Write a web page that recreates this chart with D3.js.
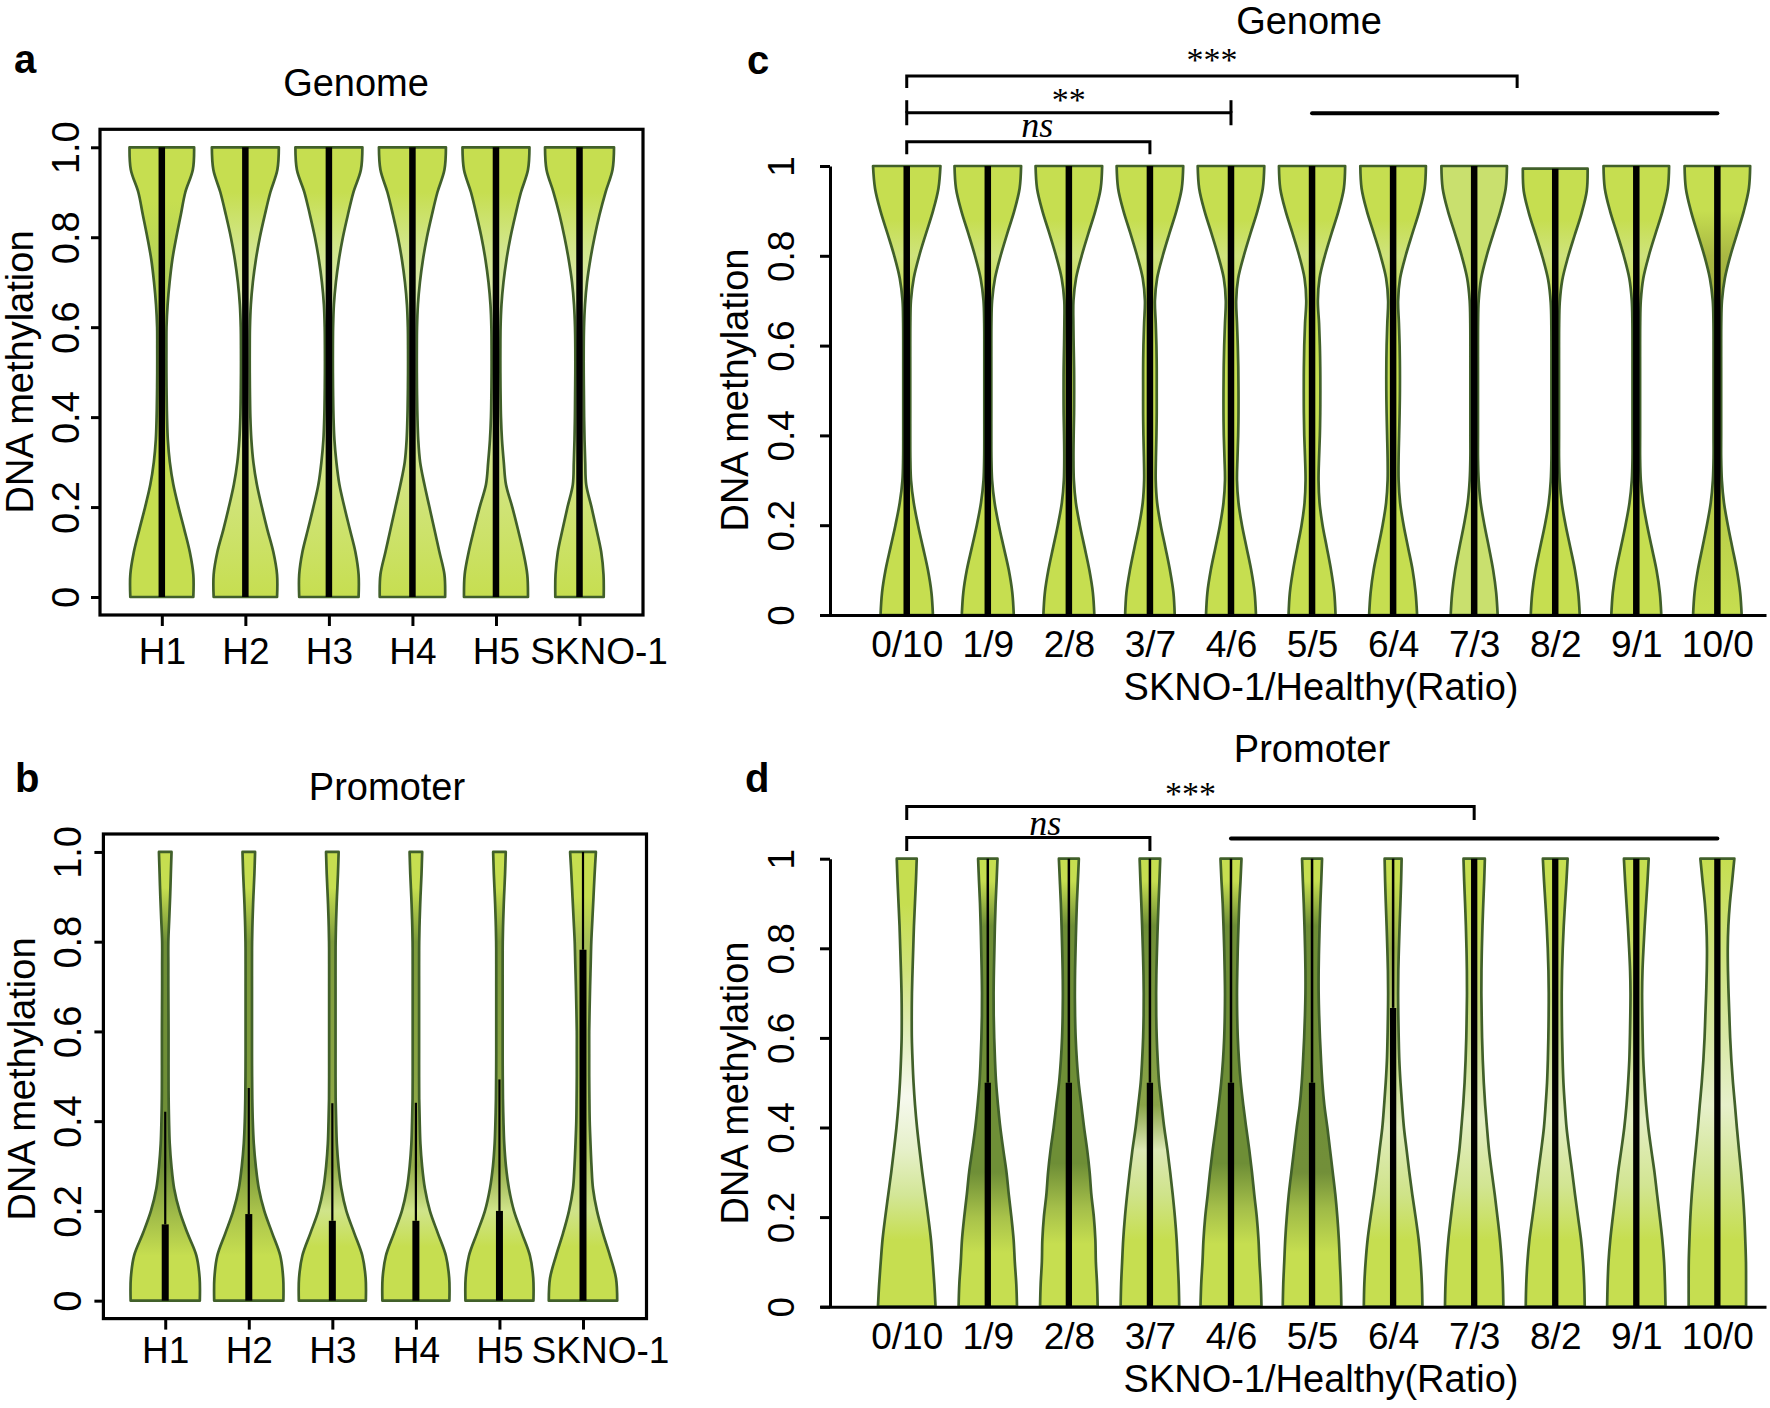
<!DOCTYPE html>
<html><head><meta charset="utf-8">
<script src="https://cdn.jsdelivr.net/npm/d3@7"></script>
<style>
html,body{margin:0;padding:0;background:#fff;}
svg{display:block;}
</style></head>
<body>
<svg id="fig" width="1770" height="1408"></svg>
<script>
// ---------------- DATA ----------------
const healthyGroups = ["H1","H2","H3","H4","H5","SKNO-1"];
const ratioGroups = ["0/10","1/9","2/8","3/7","4/6","5/5","6/4","7/3","8/2","9/1","10/0"];
const yTicks = [0, 0.2, 0.4, 0.6, 0.8, 1.0];
const yTickLabelsAB = ["0","0.2","0.4","0.6","0.8","1.0"];
const yTickLabelsCD = ["0","0.2","0.4","0.6","0.8","1"];
// methylation grid (bottom -> top) at which violin densities were read
const densityGrid = [0,0.05,0.1,0.15,0.2,0.25,0.3,0.35,0.4,0.45,0.5,0.55,0.6,0.65,0.7,0.75,0.8,0.85,0.9,0.95,1];

// panel a: Genome, healthy samples + SKNO-1 (kernel density, arbitrary units)
const genomeHealthyDensity = [
  [31.5,31.5,28,22.5,16.7,11.5,8,6,5.2,4.8,4.6,4.6,4.7,5.8,7.8,10.5,14.5,19,23.5,31,32.3],
  [31.7,31.7,28,22,16.5,11.5,8,6,5,4.6,4.4,4.4,4.6,5.5,7.5,10.5,14.5,19.5,25,32,33.5],
  [29.7,29.7,26.5,21,15.5,10.5,7.5,5.5,4.6,4.2,4,4,4.2,5,7,10,14,19,24.5,32,33.5],
  [32.7,32,27,22,17,12,7.7,5.8,5,4.6,4.4,4.4,4.6,5.5,7.5,10.5,14.5,19.5,25,32,33.5],
  [32,31.3,27.3,22,16.3,10,7.8,6,5,4.6,4.4,4.4,4.6,5.5,7.5,10.5,14.5,19.5,25,32,33.5],
  [24.2,24,21.7,17,12,6.7,5.7,5,4.6,4.4,4.2,4.2,4.5,5.5,7.5,10.8,15,20,26,33,34.5]
];
const genomeHealthyQ3 = [1,1,1,1,1,1];
const genomeHealthyUpper = [1,1,1,1,1,1];

// panel b: Promoter, healthy samples + SKNO-1
const promoterHealthyDensity = [
  [34.6,34.4,31.2,22.3,14.3,8.9,6.2,4.5,3.8,3.4,3.3,3.3,3.3,3.2,3.1,3.1,3.1,4,4.9,5.6,6.3],
  [34.6,34.4,31.5,23.5,15.5,10,7,5,4,3.5,3.3,3.2,3.2,3.2,3.2,3.2,3.3,3.8,4.6,5.6,6.3],
  [33.5,33.3,30,22,14,9,6.2,4.5,3.8,3.3,3.2,3.2,3.2,3.2,3.2,3.2,3.3,3.8,4.6,5.6,6.3],
  [33.5,33.3,30,22,14,9,6.2,4.5,3.8,3.3,3.2,3.2,3.2,3.2,3.2,3.2,3.3,3.8,4.6,5.6,6.3],
  [34,33.8,30.5,22.5,14.5,9.5,6.5,4.8,4,3.5,3.3,3.2,3.2,3.2,3.2,3.2,3.3,3.8,4.6,5.6,6.3],
  [34.2,33,27,20,14,10,8.5,7.5,6.7,6.4,6.2,6.2,6.2,6.6,7.1,7.7,8.3,9.4,10.5,11.6,12.9]
];
const promoterHealthyQ3 = [0.17,0.193,0.178,0.178,0.2,0.782];
const promoterHealthyUpper = [0.421,0.474,0.44,0.441,0.493,1];

// panel c: Genome, SKNO-1/Healthy mixtures
const genomeRatioDensity = [
  [26.2,24.7,21.2,16.3,11.3,7,4.3,3.6,3.5,3.5,3.5,3.5,3.5,3.6,4.2,7,12.5,19.3,26.3,31.7,33.7],
  [26,24.5,21,16,11,6.8,4.3,3.6,3.5,3.5,3.5,3.5,3.5,3.6,4.3,7.2,12.8,19.5,26.5,31.8,33.3],
  [25.5,24,20.5,15.8,11,7,5,4.6,4.8,5.2,5.3,5.2,4.8,4.5,4.6,7.2,12.8,19.5,26.5,31.8,33.3],
  [24.8,23.5,20,15.5,10.8,7.2,5.8,6,6.5,6.8,6.8,6.8,6.5,5.8,5,7.2,12.8,19.5,26.5,31.8,33.3],
  [25,23.6,20.2,15.6,11,7.5,6,6.5,7.2,7.5,7.5,7.3,6.8,6,5.2,7.2,12.8,19.5,26.5,31.8,33.3],
  [23.5,22.2,19,14.8,10.5,7.5,6.5,7,7.8,8.2,8.3,8.2,7.8,7,5.8,7.5,12.8,19.5,26.5,31.8,33.1],
  [24,22.5,19.5,15,10.5,7,5.5,5.5,6,6.5,6.8,6.8,6.5,5.8,5,7,12.5,19.3,26.3,31.5,32.8],
  [23.5,22,19,14.8,10.3,6.5,4.5,3.8,3.8,3.8,3.8,3.8,3.8,3.9,4.5,7,12.5,19.3,26.3,31.5,32.8],
  [24.5,23,19.8,15.2,10.5,6.6,4.5,3.8,3.8,3.8,3.8,3.8,3.8,3.9,4.5,7,12.5,19.3,26.3,31.5,32.4],
  [25,23.5,20.2,15.5,10.8,6.8,4.5,3.8,3.8,3.8,3.8,3.8,3.8,3.9,4.5,7,12.5,19.3,26.3,31.5,32.8],
  [24.3,22.8,19.5,15,10.5,6.6,4.5,3.8,3.8,3.8,3.8,3.8,3.8,3.9,4.6,7.5,13,19.8,26.5,31.5,32.8]
];
const genomeRatioMax = [1,1,1,1,1,1,1,1,0.994,1,1];
const genomeRatioQ3 = [1,1,1,1,1,1,1,1,0.994,1,1];
const genomeRatioUpper = [1,1,1,1,1,1,1,1,0.994,1,1];

// panel d: Promoter, SKNO-1/Healthy mixtures
const promoterRatioDensity = [
  [28.8,27.6,26,24.2,21.5,18.5,15.5,12.8,10.3,8.3,6.8,5.8,5.1,5,5.2,5.8,6.5,7.2,8.2,9.2,10],
  [29.2,28.5,27,25.8,23.6,21,18.7,15.5,12.5,10.2,8.3,7.2,6.4,5.9,5.8,6.1,6.6,7.1,7.8,8.8,9.7],
  [28.8,28.2,27,26.5,25,22.5,20.8,18.3,15.2,12.5,9.8,8,6.8,6.2,6,6.2,6.7,7.3,8,9,10],
  [29.3,28.8,27.8,26.7,25,22.8,20.3,17.5,14.3,11.7,9.2,7.8,6.8,6.3,6.2,6.5,7.1,7.8,8.6,9.5,10.3],
  [30.5,29.8,28.5,27.5,25.8,23.3,21,18.3,15.2,12.3,9.8,8,6.8,6.2,6,6.3,6.8,7.5,8.3,9.5,10.5],
  [29.3,28.8,27.8,26.8,25.3,23.3,20.7,18,15.3,12.3,10.3,9,7.9,7.1,6.6,6.6,7,7.6,8.3,9.2,10],
  [29.3,28.8,27.5,25.5,22.5,19.2,16.2,13.5,10.8,9,7.4,6.2,5.6,5.2,5,5.2,5.8,6.5,7.3,8,8.5],
  [29.2,28.7,27.6,25.8,23.3,20.6,17.6,14.8,12.8,11,9.6,8.6,7.9,7.5,7.2,7.3,7.7,8.3,9.1,10,10.7],
  [29.5,29,27.8,25.8,22.8,19.8,17,14,11.3,9.6,8.2,7.4,6.9,6.6,6.5,6.8,7.5,8.5,9.8,11.2,12.4],
  [29.2,28.7,27.8,26,23.5,20.8,18.2,15,12,9.8,8.2,7,6.4,6,5.8,6.2,7.2,8.4,9.8,11.2,12.4],
  [28.7,28.7,28.6,27.9,27,25.6,23.8,21.6,19.5,17.6,15.6,14,12.8,12,11.2,10.6,10.4,11,12.5,14.8,17]
];
const promoterRatioQ3 = [0,0.5,0.5,0.5,0.5,0.5,0.667,1,1,1,1];
const promoterRatioUpper = [0,1,1,1,1,1,1,1,1,1,1];

// significance comparisons (group indices, label)
const genomeComparisons = [
  {from:0, to:7.53, label:"***"},
  {from:0, to:4, label:"**"},
  {from:0, to:3, label:"ns"},
  {from:5, to:10, label:""}
];
const promoterComparisons = [
  {from:0, to:7, label:"***"},
  {from:0, to:3, label:"ns"},
  {from:4, to:10, label:""}
];

// ---------------- STYLE / LAYOUT ----------------
const SANS = "'Liberation Sans', Arial, Helvetica, sans-serif";
const SERIF = "'Liberation Serif', 'Times New Roman', serif";
const FILL = "#c6de50", EDGE = "#41602a";

const gradA = [
  [[0,FILL],[0.55,FILL],[0.72,"#b5d257"],[0.88,FILL],[1,FILL]],
  [[0,FILL],[0.6,"#e2eec0"],[0.78,"#d2e68a"],[0.9,FILL],[1,FILL]],
  [[0,FILL],[0.6,"#e2eec0"],[0.78,"#d2e68a"],[0.9,FILL],[1,FILL]],
  [[0,FILL],[0.6,"#e2eec0"],[0.78,"#d2e68a"],[0.9,FILL],[1,FILL]],
  [[0,FILL],[0.6,"#e2eec0"],[0.78,"#d2e68a"],[0.9,FILL],[1,FILL]],
  [[0,FILL],[0.6,"#e2eec0"],[0.78,"#d2e68a"],[0.9,FILL],[1,FILL]]
];
const gradB = [
  [[0,FILL],[0.1,FILL],[0.2,"#9db848"],[0.3,"#6f8f37"],[0.8,"#6f8f37"],[0.92,FILL],[1,FILL]],
  [[0,FILL],[0.1,FILL],[0.2,"#a9c24b"],[0.3,"#7d9b3b"],[0.8,"#7d9b3b"],[0.92,FILL],[1,FILL]],
  [[0,FILL],[0.12,FILL],[0.2,"#d0e48a"],[0.3,"#94ad4a"],[0.8,"#7d9b3b"],[0.92,FILL],[1,FILL]],
  [[0,FILL],[0.12,FILL],[0.2,"#d0e48a"],[0.3,"#94ad4a"],[0.8,"#7d9b3b"],[0.92,FILL],[1,FILL]],
  [[0,FILL],[0.12,FILL],[0.2,"#d0e48a"],[0.3,"#94ad4a"],[0.8,"#7d9b3b"],[0.92,FILL],[1,FILL]],
  [[0,FILL],[0.12,FILL],[0.2,"#cfe389"],[0.35,"#b0c860"],[0.8,"#a8c058"],[0.9,FILL],[1,FILL]]
];
const gC_std = [[0,FILL],[0.7,FILL],[0.8,"#cfe37c"],[0.88,FILL],[1,FILL]];
const gradC = [gC_std,gC_std,gC_std,gC_std,gC_std,gC_std,gC_std,
  [[0,"#c9e06e"],[1,"#c9e06e"]], gC_std, gC_std,
  [[0,FILL],[0.7,"#9fae3c"],[0.8,"#a9b843"],[0.9,FILL],[1,FILL]]];
const gD_dark = [[0,FILL],[0.14,FILL],[0.22,"#a5bf4a"],[0.32,"#6e8e36"],[0.85,"#6e8e36"],[0.95,FILL],[1,FILL]];
const gD_light = [[0,FILL],[0.15,FILL],[0.27,"#d2e592"],[0.42,"#e4efc4"],[0.6,"#c9dd8a"],[0.9,FILL],[1,FILL]];
const gradD = [
  [[0,FILL],[0.15,FILL],[0.25,"#d3e697"],[0.35,"#e6f0c9"],[0.47,"#f6f9ee"],[0.6,"#e3efc0"],[0.75,"#cfe37a"],[0.9,FILL],[1,FILL]],
  [[0,FILL],[0.12,FILL],[0.2,"#a8c24a"],[0.3,"#6f8f37"],[0.85,"#6f8f37"],[0.95,FILL],[1,FILL]],
  gD_dark,
  [[0,FILL],[0.15,FILL],[0.25,"#cfe38a"],[0.35,"#dde9b5"],[0.45,"#8aa448"],[0.85,"#6e8e36"],[0.95,FILL],[1,FILL]],
  gD_dark,
  [[0,FILL],[0.12,FILL],[0.22,"#9fba47"],[0.3,"#728f39"],[0.85,"#6e8e36"],[0.95,FILL],[1,FILL]],
  [[0,FILL],[0.15,FILL],[0.25,"#cfe388"],[0.4,"#e1edbd"],[0.55,"#c5da85"],[0.8,"#9ab24a"],[0.95,FILL],[1,FILL]],
  gD_light, gD_light, gD_light,
  [[0,FILL],[0.15,FILL],[0.3,"#d2e592"],[0.45,"#e6f0ca"],[0.6,"#d8e8a6"],[0.8,"#cfe37c"],[1,FILL]]
];

const svg = d3.select("#fig");
svg.append("rect").attr("width",1770).attr("height",1408).attr("fill","#fff");
const defs = svg.append("defs");

function drawViolins(g, o) {
  o.dens.forEach((arr, i) => {
    const cx = o.x(o.pos(i));
    const hi = o.vmax ? o.vmax[i] : 1;
    const pts = arr.map((w, k) => ({v: hi * densityGrid[k], w}));
    const area = d3.area().curve(d3.curveCatmullRom.alpha(0.5))
      .y(d => o.y(d.v)).x0(d => cx - o.w(d.w)).x1(d => cx + o.w(d.w));
    const gid = o.prefix + i;
    const grad = defs.append("linearGradient").attr("id", gid)
      .attr("gradientUnits","userSpaceOnUse")
      .attr("x1",0).attr("x2",0).attr("y1",o.y(0)).attr("y2",o.y(1));
    o.grads[i].forEach(s => grad.append("stop").attr("offset", s[0]).attr("stop-color", s[1]));
    g.append("path").attr("d", area(pts)).attr("fill", `url(#${gid})`)
      .attr("stroke", EDGE).attr("stroke-width", 2.7).attr("stroke-linejoin","round");
    if (o.upper[i] > o.q3[i]) {
      g.append("line").attr("x1",cx).attr("x2",cx)
        .attr("y1",o.y(o.q3[i])).attr("y2",o.y(o.upper[i]))
        .attr("stroke","#000").attr("stroke-width",o.thin);
    }
    if (o.q3[i] > 0) {
      g.append("line").attr("x1",cx).attr("x2",cx)
        .attr("y1",o.y(0)).attr("y2",o.y(o.q3[i]))
        .attr("stroke","#000").attr("stroke-width",o.thick);
    }
  });
}

function txt(x, y, s, size, opts={}) {
  const t = svg.append("text").attr("x",x).attr("y",y).text(s)
    .attr("font-family", opts.family || SANS).attr("font-size", size)
    .attr("fill","#000").attr("text-anchor", opts.anchor || "middle");
  if (opts.weight) t.attr("font-weight", opts.weight);
  if (opts.style) t.attr("font-style", opts.style);
  if (opts.rotate) t.attr("transform", `rotate(-90,${x},${y})`);
  return t;
}

// ---------- panels a & b (boxed) ----------
function boxedPanel(cfg) {
  const x = d3.scaleLinear().domain([0.26, 6.76]).range(cfg.xr);
  const y = d3.scaleLinear().domain([-0.04, 1.04]).range(cfg.yr);
  const w = d3.scaleLinear().domain([0, 35]).range([0, 35]);
  const g = svg.append("g");
  drawViolins(g, {x, y, w, pos: i => i + 1, dens: cfg.dens, q3: cfg.q3, upper: cfg.upper,
    grads: cfg.grads, prefix: cfg.prefix, thick: cfg.thick, thin: cfg.thin});
  g.append("rect").attr("x", cfg.xr[0]).attr("y", cfg.yr[1])
    .attr("width", cfg.xr[1]-cfg.xr[0]).attr("height", cfg.yr[0]-cfg.yr[1])
    .attr("fill","none").attr("stroke","#000").attr("stroke-width",3.2);
  // y axis
  const ya = svg.append("g").attr("transform",`translate(${cfg.xr[0]},0)`)
    .call(d3.axisLeft(y).tickValues(yTicks).tickSize(9).tickSizeOuter(0)
      .tickFormat((d,i) => yTickLabelsAB[i]));
  ya.select(".domain").remove();
  ya.selectAll(".tick line").attr("stroke-width",3);
  ya.selectAll(".tick text").attr("x",0).attr("dy",0)
    .attr("transform",`translate(${cfg.ytl - cfg.xr[0]},0) rotate(-90)`)
    .attr("text-anchor","middle").attr("font-size",38).attr("font-family",SANS).attr("fill","#000");
  // x axis
  const xa = svg.append("g").attr("transform",`translate(0,${cfg.yr[0]})`)
    .call(d3.axisBottom(x).tickValues([1,2,3,4,5,6]).tickSize(11).tickSizeOuter(0)
      .tickFormat(d => healthyGroups[d-1]));
  xa.select(".domain").remove();
  xa.selectAll(".tick line").attr("stroke-width",3);
  xa.selectAll(".tick text").attr("y", cfg.xtl - cfg.yr[0]).attr("dy",0)
    .attr("dx", d => d === 6 ? cfg.lastLabelShift : 0)
    .attr("font-size",37).attr("font-family",SANS).attr("fill","#000");
  txt(cfg.title[1], cfg.title[2], cfg.title[0], 38);
  txt(cfg.ylab[0], cfg.ylab[1], "DNA methylation", 38, {rotate:true});
  txt(cfg.letter[1], cfg.letter[2], cfg.letter[0], 40, {anchor:"start", weight:"bold"});
}

boxedPanel({xr:[100,643], yr:[615,129.3], dens:genomeHealthyDensity, q3:genomeHealthyQ3,
  upper:genomeHealthyUpper, grads:gradA, prefix:"ga", thick:6.5, thin:2.5,
  ytl:79, xtl:664, lastLabelShift:19, title:["Genome",356,96], ylab:[33,372], letter:["a",14,73]});
boxedPanel({xr:[103.4,646.5], yr:[1318.6,834], dens:promoterHealthyDensity, q3:promoterHealthyQ3,
  upper:promoterHealthyUpper, grads:gradB, prefix:"gb", thick:7, thin:2.2,
  ytl:81, xtl:1363, lastLabelShift:17, title:["Promoter",387,800], ylab:[35,1079], letter:["b",15,792]});

// ---------- panels c & d (open axes) ----------
function openPanel(cfg) {
  const x = d3.scaleLinear().domain([-1.07, 10.6]).range([820, 1766]);
  const y = d3.scaleLinear().domain([0, 1]).range(cfg.yr);
  const w = d3.scaleLinear().domain([0, 35]).range([0, 35]);
  const g = svg.append("g");
  drawViolins(g, {x, y, w, pos: i => i, dens: cfg.dens, vmax: cfg.vmax, q3: cfg.q3, upper: cfg.upper,
    grads: cfg.grads, prefix: cfg.prefix, thick: cfg.thick, thin: cfg.thin});
  const ya = svg.append("g").attr("transform","translate(830,0)")
    .call(d3.axisLeft(y).tickValues(yTicks).tickSize(10).tickSizeOuter(0)
      .tickFormat((d,i) => yTickLabelsCD[i]));
  ya.select(".domain").attr("stroke-width",3);
  ya.selectAll(".tick line").attr("stroke-width",3);
  ya.selectAll(".tick text").attr("x",0).attr("dy",0)
    .attr("transform","translate(-36,0) rotate(-90)")
    .attr("text-anchor","middle").attr("font-size",37).attr("font-family",SANS).attr("fill","#000");
  const xa = svg.append("g").attr("transform",`translate(0,${cfg.yr[0]})`)
    .call(d3.axisBottom(x).tickValues(d3.range(ratioGroups.length)).tickSize(0).tickSizeOuter(0)
      .tickFormat(d => ratioGroups[d]));
  xa.select(".domain").attr("stroke-width",3);
  xa.selectAll(".tick text").attr("y", 42).attr("dy",0)
    .attr("font-size",37).attr("font-family",SANS).attr("fill","#000");
  // comparisons
  cfg.comps.forEach((c, k) => {
    const L = cfg.compLayout[k];
    const x0 = x(c.from), x1 = x(c.to);
    if (!c.label) {
      svg.append("line").attr("x1",x0).attr("x2",x1).attr("y1",L.y).attr("y2",L.y)
        .attr("stroke","#000").attr("stroke-width",4).attr("stroke-linecap","round");
      return;
    }
    const p = d3.path();
    p.moveTo(x0, L.y + L.down); p.lineTo(x0, L.y); p.lineTo(x1, L.y); p.lineTo(x1, L.y + L.down);
    svg.append("path").attr("d", p.toString()).attr("fill","none")
      .attr("stroke","#000").attr("stroke-width",3);
    if (L.up) {
      [x0, x1].forEach(xx => svg.append("line").attr("x1",xx).attr("x2",xx)
        .attr("y1",L.y - L.up).attr("y2",L.y).attr("stroke","#000").attr("stroke-width",3));
    }
    const isNs = c.label === "ns";
    txt((x0 + x1) / 2 + (L.dx || 0), L.ty, c.label, isNs ? 36 : 34,
      {family: SERIF, style: isNs ? "italic" : null});
  });
  txt(cfg.title[1], cfg.title[2], cfg.title[0], 38);
  txt(748, cfg.ylabY, "DNA methylation", 38, {rotate:true});
  txt(1321, cfg.xlabY, "SKNO-1/Healthy(Ratio)", 38);
  txt(cfg.letter[1], cfg.letter[2], cfg.letter[0], 40, {anchor:"start", weight:"bold"});
}

openPanel({yr:[615,166], dens:genomeRatioDensity, vmax:genomeRatioMax, q3:genomeRatioQ3,
  upper:genomeRatioUpper, grads:gradC, prefix:"gc", thick:6.5, thin:2.5,
  comps:genomeComparisons,
  compLayout:[{y:76, down:12, ty:71}, {y:112.7, down:12.5, up:12.5, ty:111},
              {y:141.7, down:12.5, ty:137, dx:9}, {y:113.3}],
  title:["Genome",1309,34], ylabY:390, xlabY:700, letter:["c",747,74]});
openPanel({yr:[1306.7,858.7], dens:promoterRatioDensity, vmax:null, q3:promoterRatioQ3,
  upper:promoterRatioUpper, grads:gradD, prefix:"gd", thick:6.3, thin:2.5,
  comps:promoterComparisons,
  compLayout:[{y:806.4, down:13.5, ty:805}, {y:837.6, down:13.5, ty:835, dx:17}, {y:838.5}],
  title:["Promoter",1312,762], ylabY:1083, xlabY:1392, letter:["d",745,792]});
</script>
</body></html>
